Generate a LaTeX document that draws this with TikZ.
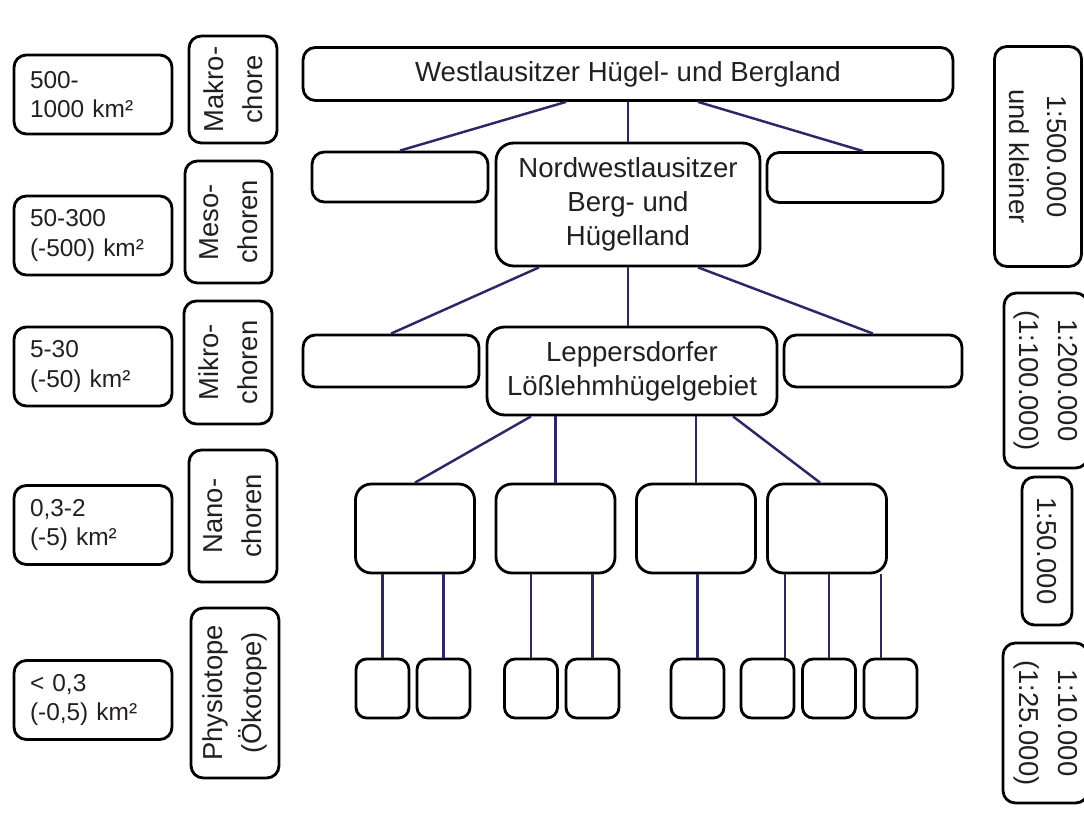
\documentclass[tikz,border=0pt]{standalone}
\usepackage{fontspec}
\setmainfont{Liberation Sans}
\usetikzlibrary{calc}

\definecolor{linkblue}{RGB}{42,40,105}
\definecolor{inkgray}{RGB}{35,31,32}
\newcommand{\mainsize}{\fontsize{15.7pt}{19.5pt}\selectfont}
\newcommand{\sidesize}{\fontsize{15.6pt}{22pt}\selectfont}
\newcommand{\areasize}{\fontsize{13.9pt}{16.6pt}\selectfont}

\tikzset{
  regionbox/.style={draw, line width=1.6pt, rounded corners=7pt, text=inkgray, align=center, inner sep=0pt, font=\mainsize},
  link/.style={draw=linkblue, line width=1.4pt},
  areabox/.style={regionbox, font=\areasize, align=left, text width=2.52cm, inner xsep=0.32cm, minimum height=1.58cm},
  levelbox/.style={regionbox, rotate=90, font=\sidesize, minimum height=1.76cm},
  scalebox/.style={regionbox, rotate=-90, font=\sidesize},
  unitbox/.style={regionbox, rounded corners=9pt, minimum width=2.38cm, minimum height=1.78cm},
  leafbox/.style={regionbox, rounded corners=6pt, minimum width=1.06cm, minimum height=1.18cm}
}

\begin{document}
\begin{tikzpicture}[x=0.02cm, y=-0.02cm]
  \useasboundingbox (0,0) rectangle (1084,813);

  % Left column: area sizes
  \node[areabox] (k1) at (93,94.5) {500-\\1000 km²};
  \node[areabox] (k2) at (93,235.5) {50-300\\(-500) km²};
  \node[areabox] (k3) at (93,366.5) {5-30\\(-50) km²};
  \node[areabox] (k4) at (93,525) {0,3-2\\(-5) km²};
  \node[areabox] (k5) at (93,700) {< 0,3\\(-0,5) km²};

  % Left column: levels
  \node[levelbox, minimum width=2.14cm] (r1) at (233,89.5) {Makro-\\chore};
  \node[levelbox, minimum width=2.44cm, minimum height=1.74cm] (r2) at (228.5,222) {Meso-\\choren};
  \node[levelbox, minimum width=2.46cm] (r3) at (228,362.5) {Mikro-\\choren};
  \node[levelbox, minimum width=2.64cm] (r4) at (233,516) {Nano-\\choren};
  \node[levelbox, minimum width=3.4cm] (r5) at (235,693) {Physiotope\\(Ökotope)};

  % Hierarchy
  \node[regionbox, minimum width=13cm, minimum height=1.06cm] (west) at (628,74) {Westlausitzer Hügel- und Bergland};
  \node[regionbox, minimum width=3.52cm, minimum height=1cm] (m2l) at (400,177) {};
  \node[regionbox, rounded corners=10pt, minimum width=5.28cm, minimum height=2.46cm] (nwl) at (628,204.5) {Nordwestlausitzer\\Berg- und\\Hügelland};
  \node[regionbox, minimum width=3.52cm, minimum height=1cm] (m2r) at (855,177.5) {};
  \node[regionbox, minimum width=3.52cm, minimum height=1.04cm] (m3l) at (391,361) {};
  \node[regionbox, rounded corners=10pt, minimum width=5.8cm, minimum height=1.76cm] (lep) at (632,371) {Leppersdorfer\\Lößlehmhügelgebiet};
  \node[regionbox, minimum width=3.56cm, minimum height=1.04cm] (m3r) at (873,361) {};
  \foreach \n/\x in {n1/415, n2/555.5, n3/696, n4/827}
    \node[unitbox] (\n) at (\x,528.5) {};
  \foreach \n/\x in {p1/382.5, p2/443.5, p3/531, p4/592.5, p5/697.5, p6/767.5, p7/829, p8/890.5}
    \node[leafbox] (\n) at (\x,688.5) {};

  % Right column: map scales
  \node[scalebox, minimum width=4.4cm, minimum height=1.74cm] (s1) at (1038,156.5) {1:500.000\\und kleiner};
  \node[scalebox, minimum width=3.5cm, minimum height=1.68cm] (s2) at (1046,380.5) {1:200.000\\(1:100.000)};
  \node[scalebox, minimum width=2.96cm, minimum height=1cm] (s3) at (1047,551) {1:50.000};
  \node[scalebox, minimum width=3.2cm, minimum height=1.7cm] (s4) at (1045.5,723) {1:10.000\\(1:25.000)};

  % Connectors
  \draw[link] ($(west.south)+(-62,0)$) -- (m2l.north);
  \draw[link] (nwl.north) -- (nwl.north |- west.south);
  \draw[link] ($(west.south)+(70,0)$) -- ($(m2r.north)+(8,0)$);
  \draw[link] ($(nwl.south)+(-89,0)$) -- (m3l.north);
  \draw[link] (nwl.south) -- (nwl.south |- lep.north);
  \draw[link] ($(nwl.south)+(70,0)$) -- (m3r.north);
  \draw[link] ($(lep.south)+(-101,0)$) -- (n1.north);
  \draw[link] (n2.north) -- (n2.north |- lep.south);
  \draw[link] (n3.north) -- (n3.north |- lep.south);
  \draw[link] ($(lep.south)+(101,0)$) -- ($(n4.north)+(-7,0)$);
  \foreach \p/\q in {p1/n1, p2/n1, p3/n2, p4/n2, p5/n3, p7/n4}
    \draw[link] (\p.north) -- (\p.north |- \q.south);
  \coordinate (p6c) at ($(p6.north)+(17.5,0)$);
  \coordinate (p8c) at ($(p8.north)+(-9.5,0)$);
  \draw[link] (p6c) -- (p6c |- n4.south);
  \draw[link] (p8c) -- (p8c |- n4.south);
\end{tikzpicture}
\end{document}
